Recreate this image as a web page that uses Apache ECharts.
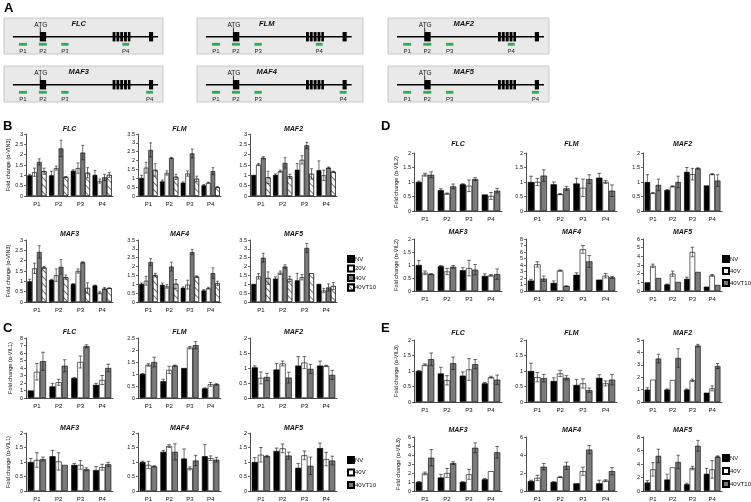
<!DOCTYPE html>
<html><head><meta charset="utf-8">
<script src="https://cdn.jsdelivr.net/npm/echarts@6/dist/echarts.min.js"></script>
<style>html,body{margin:0;padding:0;background:#fff}#c{width:751px;height:502px}</style>
</head><body><div id="c"></div>
<script>
// ---------------- DATA ----------------
const categories = ['P1','P2','P3','P4'];
const seriesB = ['NV','20V','40V','40VT10'];
const seriesCDE = ['NV','40V','40VT10'];
const geneNames = ['FLC','FLM','MAF2','MAF3','MAF4','MAF5'];

// gene structure (position along the box, 0-100)
const geneSpan = [5.6, 96.9];
const geneExons = [[22.5,26.5],[68.3,70.1],[70.7,72.5],[73.1,74.9],[75.5,77.3],[77.9,79.5],[91.2,93.8]];
const primersA = [[9.4,14.4],[21.9,26.9],[36,40.6],[74.4,78.7]];
const primersB = [[9.4,14.4],[21.9,26.9],[36,40.6],[89.4,93.7]];

// panel B (NV, 20V, 40V, 40VT10)
const B_FLC  = [[1.0,1.0,1.22,1.02],[1.15,1.35,1.35,0.72],[1.65,2.3,2.1,0.9],[1.2,0.92,1.12,1.02]];
const B_FLC_E= [[0.05,0.2,0.05,0.22],[0.2,0.1,0.25,0.1],[0.15,0.4,0.35,0.15],[0.15,0.02,0.25,0.12]];
const B_FLM  = [[1.02,0.82,0.75,0.6],[1.6,1.3,1.27,0.75],[2.6,2.15,2.4,1.4],[1.47,1.08,0.97,0.5]];
const B_FLM_E= [[0.15,0.08,0.05,0.05],[0.3,0.12,0.15,0.03],[0.4,0.03,0.25,0.2],[0.35,0.15,0.15,0.03]];
const B_MAF2 = [[1.02,1.02,1.27,1.25],[1.52,1.2,1.75,1.0],[1.85,1.6,2.45,1.37],[0.9,0.95,1.07,1.17]];
const B_MAF2_E=[[0,0.05,0.3,0.45],[0.05,0.05,0.2,0.25],[0.05,0.25,0.15,0.03],[0.3,0.1,0.25,0.03]];
const B_MAF3 = [[1.0,1.07,0.87,0.8],[1.63,1.3,1.5,0.45],[2.42,1.7,1.92,0.65],[1.67,1.2,0.68,0.67]];
const B_MAF3_E=[[0.1,0.03,0.02,0.02],[0.25,0.3,0.1,0.05],[0.3,0.35,0.03,0.05],[0.05,0.1,0.25,0.02]];
const B_MAF4 = [[1.02,0.97,0.8,0.65],[1.2,0.88,0.98,0.78],[2.25,2.0,2.82,1.63],[1.52,1.02,1.43,1.05]];
const B_MAF4_E=[[0.05,0.1,0.05,0.05],[0.25,0.1,0.25,0.05],[0.2,0.25,0.15,0.3],[0.1,0.25,0.05,0.12]];
const B_MAF5 = [[1.02,1.32,1.22,1.02],[1.45,1.65,1.4,0.65],[2.5,2.0,3.05,0.82],[1.35,1.3,1.62,0.9]];
const B_MAF5_E=[[0,0.1,0.4,0],[0.15,0.1,0.15,0.12],[0.25,0.1,0.25,0.2],[0.35,0.15,0,0.2]];

// panel C (NV, 40V, 40VT10)
const C_FLC  = [[1.0,1.55,2.65,1.75],[3.5,2.1,4.8,2.4],[4.9,4.3,6.9,4.0]];
const C_FLC_E= [[0,0.4,0.1,0.2],[1.1,0.4,0.8,0.6],[1.2,0.8,0.2,0.5]];
const C_FLM  = [[1.0,0.7,1.25,0.4],[1.38,1.17,2.1,0.57],[1.5,1.35,2.2,0.57]];
const C_FLM_E= [[0.02,0.08,0,0.02],[0.05,0.15,0.05,0.08],[0.2,0.02,0.15,0.03]];
const C_MAF2 = [[1.02,0.95,1.08,1.08],[0.67,1.15,1.18,1.07],[0.7,0.68,0.97,0.77]];
const C_MAF2_E=[[0.05,0.2,0.3,0.15],[0.2,0.08,0.2,0.02],[0.12,0.18,0.15,0.15]];
const C_MAF3 = [[1.0,1.2,0.9,0.72],[1.07,1.02,0.9,0.82],[1.1,0.9,0.75,0.92]];
const C_MAF3_E=[[0.12,0.2,0.05,0.12],[0.25,0.3,0.15,0.1],[0.07,0,0.05,0.07]];
const C_MAF4 = [[1.0,1.35,1.12,1.2],[0.9,1.55,0.78,1.13],[0.85,1.35,1.05,1.08]];
const C_MAF4_E=[[0.03,0.05,0.33,0.4],[0.12,0.05,0.05,0.08],[0.02,0.28,0.18,0.08]];
const C_MAF5 = [[1.0,1.38,0.8,1.48],[1.25,1.47,1.23,1.1],[1.2,1.22,0.87,1.05]];
const C_MAF5_E=[[0.15,0.1,0.15,0.17],[0.25,0.15,0.15,0.23],[0.03,0.12,0.3,0.15]];

// panel D
const D_FLC  = [[1.0,0.72,0.92,0.57],[1.25,0.6,0.87,0.52],[1.25,0.85,1.1,0.7]];
const D_FLC_E= [[0.03,0.05,0.02,0],[0.05,0.02,0.2,0.12],[0.1,0.08,0.05,0.08]];
const D_FLM  = [[1.0,0.92,0.95,1.15],[1.0,0.58,0.8,1.0],[1.22,0.78,1.1,0.7]];
const D_FLM_E= [[0.2,0.08,0.18,0.15],[0.12,0.02,0.3,0.05],[0.2,0.07,0.15,0.2]];
const D_MAF2 = [[1.0,0.72,1.35,0.88],[0.62,0.85,1.27,1.27],[0.9,1.0,1.47,1.05]];
const D_MAF2_E=[[0.25,0.02,0.15,0],[0.02,0.02,0.2,0.02],[0.2,0.2,0.02,0.2]];
const D_MAF3 = [[1.0,0.95,0.8,0.58],[0.7,0.75,0.88,0.6],[0.65,0.93,0.82,0.65]];
const D_MAF3_E=[[0.17,0.03,0.1,0.08],[0.07,0.12,0.3,0.03],[0.02,0.05,0.2,0.2]];
const D_MAF4 = [[1.6,1.25,2.5,1.75],[4.1,3.15,6.4,2.35],[1.9,0.75,4.55,2.1]];
const D_MAF4_E=[[0.2,0.3,0.3,0],[0.4,0.1,0.6,0.35],[0.4,0.05,0.9,0.15]];
const D_MAF5 = [[1.0,0.75,1.4,0.5],[2.9,2.0,4.5,1.8],[1.5,1.05,2.2,0.7]];
const D_MAF5_E=[[0,0.05,0.2,0],[0.2,0.3,0.55,0.1],[0,0,0,0]];

// panel E
const E_FLC  = [[1.0,0.92,0.85,0.6],[1.2,0.7,1.05,0.8],[1.38,1.25,1.22,0.72]];
const E_FLC_E= [[0.02,0.2,0.12,0.03],[0.03,0.15,0.35,0.03],[0.2,0.2,0.15,0.15]];
const E_FLM  = [[1.0,0.68,0.55,0.78],[0.8,0.92,0.6,0.6],[0.77,0.78,0.38,0.72]];
const E_FLM_E= [[0.25,0.1,0.18,0.1],[0.15,0.1,0.15,0.08],[0.12,0.07,0.07,0.17]];
const E_MAF2 = [[1.0,1.0,1.0,0.75],[1.8,1.77,1.75,1.1],[3.5,3.55,4.55,2.9]];
const E_MAF2_E=[[0.15,0.05,0.05,0],[0,0,0.1,0.2],[0.35,0.75,0.1,0.2]];
const E_MAF3 = [[1.0,1.5,1.0,1.3],[1.95,2.0,1.85,2.2],[3.7,3.1,4.8,4.3]];
const E_MAF3_E=[[0.05,0.35,0.02,0.1],[0.15,0.5,0.55,0],[0.9,0.15,0.55,0.65]];
const E_MAF4 = [[1.1,1.0,0.85,0.85],[1.45,1.55,2.2,1.15],[2.7,2.8,4.6,2.2]];
const E_MAF4_E=[[0.1,0.02,0,0.35],[0.3,0.05,0.45,0.1],[0.35,0.4,0.45,0.4]];
const E_MAF5 = [[1.25,1.7,1.0,2.55],[3.2,3.5,3.4,3.2],[5.2,4.3,6.7,5.1]];
const E_MAF5_E=[[0.3,0.8,0.15,0.8],[1.0,0,0.25,1.3],[1.0,1.0,0.8,0.1]];

// axis max / interval per chart (FLC, FLM, MAF2, MAF3, MAF4, MAF5)
const B_max = [3,3.5,3,3,3.5,3.5],  B_step = [0.5,0.5,0.5,0.5,0.5,0.5];
const C_max = [8,2.5,2,2,2,2],      C_step = [1,0.5,0.5,0.5,0.5,0.5];
const D_max = [2,2,2,2,8,6],        D_step = [0.5,0.5,0.5,0.5,1,1];
const E_max = [2,2,5,6,6,8],        E_step = [0.5,0.5,1,1,2,2];

const yNames = {B:'Fold change (\u03b1-VIN3)', C:'Fold change (\u03b1-VIL1)', D:'Fold change (\u03b1-VIL2)', E:'Fold change (\u03b1-VIL3)'};

// ---------------- LAYOUT ----------------
const FONT = 'Liberation Sans';
const leftCols = [[26,87],[138,83],[250,87]];
const rightCols = [[414,88],[526,91],[643,79]];
const panelCols = {B:leftCols, C:leftCols, D:rightCols, E:rightCols};
const panelRows = {B:[[134,62],[240,62]], C:[[338,60],[433,58]], D:[[153,58],[239,52]], E:[[340,62],[437,54]]};
const titleY = {B:[129,234], C:[332,428], D:[144,232], E:[333,430]};
const legendPos = {B:[347,255,1.5], C:[347,456,4.5], D:[722,255,4], E:[722,454,5]};
const letterPos = {A:[4,2], B:[3,120], C:[3,322], D:[381,120], E:[381,322]};
const geneRows = [18,66], geneCols = [[4,159],[197,166],[388,161]], geneH = 36;
const geneAxisMax = [100,104,100], geneTitleFrac = [0.47,0.42,0.47];

const panelData = {
  B:{vals:[B_FLC,B_FLM,B_MAF2,B_MAF3,B_MAF4,B_MAF5], errs:[B_FLC_E,B_FLM_E,B_MAF2_E,B_MAF3_E,B_MAF4_E,B_MAF5_E], max:B_max, step:B_step, names:seriesB},
  C:{vals:[C_FLC,C_FLM,C_MAF2,C_MAF3,C_MAF4,C_MAF5], errs:[C_FLC_E,C_FLM_E,C_MAF2_E,C_MAF3_E,C_MAF4_E,C_MAF5_E], max:C_max, step:C_step, names:seriesCDE},
  D:{vals:[D_FLC,D_FLM,D_MAF2,D_MAF3,D_MAF4,D_MAF5], errs:[D_FLC_E,D_FLM_E,D_MAF2_E,D_MAF3_E,D_MAF4_E,D_MAF5_E], max:D_max, step:D_step, names:seriesCDE},
  E:{vals:[E_FLC,E_FLM,E_MAF2,E_MAF3,E_MAF4,E_MAF5], errs:[E_FLC_E,E_FLM_E,E_MAF2_E,E_MAF3_E,E_MAF4_E,E_MAF5_E], max:E_max, step:E_step, names:seriesCDE}
};

const hatch = {symbol:'rect', symbolSize:1, dashArrayX:[1,0], dashArrayY:[0.6,4], rotation:Math.PI/4, color:'#777', backgroundColor:'#fff'};
const styleB = [{color:'#000'},{color:'#f6f6f6'},{color:'#7a7a7a'},{color:'#fff', decal:hatch}];
const styleX = [{color:'#000'},{color:'#fff'},{color:'#7a7a7a'}];

// ---------------- BUILD ----------------
const grids = [], xAxes = [], yAxes = [], series = [], graphics = [], legends = [];

function errRender(n, s, gap){
  return function(params, api){
    const ci = api.value(0), v = api.value(1), e = api.value(2);
    if (!(e > 0)) return null;
    const band = api.size([1,0])[0];
    const group = band*(1-gap);
    const bw = group/n;
    const cx = api.coord([ci, v])[0] - group/2 + bw*(s+0.5);
    const yt = api.coord([ci, v+e])[1], yb = api.coord([ci, Math.max(0, v-e)])[1];
    const cap = bw*0.3;
    const st = {stroke:'#111', lineWidth:0.6};
    return {type:'group', children:[
      {type:'line', shape:{x1:cx,y1:yt,x2:cx,y2:yb}, style:st},
      {type:'line', shape:{x1:cx-cap,y1:yt,x2:cx+cap,y2:yt}, style:st},
      {type:'line', shape:{x1:cx-cap,y1:yb,x2:cx+cap,y2:yb}, style:st}
    ]};
  };
}

// Panel A: gene diagrams
geneNames.forEach((g, gi) => {
  const r = Math.floor(gi/3), c = gi%3;
  const [gl, gw] = geneCols[c];
  const gt = geneRows[r];
  const idx = grids.length;
  grids.push({left:gl, top:gt, width:gw, height:geneH, show:true, backgroundColor:'#e9e9e9', borderColor:'#bdbdbd', borderWidth:0.8});
  xAxes.push({type:'value', gridIndex:idx, min:0, max:geneAxisMax[c], show:false});
  yAxes.push({type:'value', gridIndex:idx, min:0, max:100, show:false});
  const prim = r === 0 ? primersA : primersB;
  const items = [[0, geneSpan[0], geneSpan[1], 0]];
  geneExons.forEach(e => items.push([1, e[0], e[1], 0]));
  prim.forEach((p, pi) => items.push([2, p[0], p[1], pi]));
  items.push([3, geneExons[0][0], geneExons[0][1], 0]);
  series.push({type:'custom', xAxisIndex:idx, yAxisIndex:idx, silent:true, animation:false, encode:{x:[1,2]},
    data: items,
    renderItem: function(params, api){
      const k = api.value(0), a = api.value(1), b = api.value(2), li = api.value(3);
      const x1 = api.coord([a,0])[0], x2 = api.coord([b,0])[0];
      const Y = v => api.coord([0, v])[1];
      if (k === 0) return {type:'line', shape:{x1:x1,y1:Y(48),x2:x2,y2:Y(48)}, style:{stroke:'#000', lineWidth:1.6}};
      if (k === 1) return {type:'rect', shape:{x:x1, y:Y(61), width:x2-x1, height:Y(35)-Y(61)}, style:{fill:'#000'}};
      if (k === 2) return {type:'group', children:[
        {type:'rect', shape:{x:x1, y:Y(31), width:x2-x1, height:Y(23)-Y(31)}, style:{fill:'#2bb24c'}},
        {type:'text', style:{text:categories[li], x:(x1+x2)/2, y:Y(8), align:'center', verticalAlign:'middle', font:'6px "'+FONT+'"', fill:'#222'}}
      ]};
      return {type:'group', children:[
        {type:'line', shape:{x1:x1+0.5,y1:Y(61),x2:x1+0.5,y2:Y(74)}, style:{stroke:'#000', lineWidth:0.8}},
        {type:'text', style:{text:'ATG', x:x1+1, y:Y(81), align:'center', verticalAlign:'middle', font:'6.5px "'+FONT+'"', fill:'#111'}}
      ]};
    }
  });
  graphics.push({type:'text', x: gl + gw*geneTitleFrac[c], y: gt + 6, style:{text:g, font:'italic bold 7.5px "'+FONT+'"', fill:'#111', align:'center', verticalAlign:'middle'}});
});

// Panels B-E: bar charts
['B','C','D','E'].forEach(p => {
  const pd = panelData[p];
  const n = pd.names.length;
  const gap = n === 4 ? 0.12 : 0.16;
  const styles = n === 4 ? styleB : styleX;
  const prefix = p === 'B' ? 'B:' : 'X:';
  for (let ci = 0; ci < 6; ci++) {
    const r = Math.floor(ci/3), c = ci%3;
    const [left, width] = panelCols[p][c];
    const [top, height] = panelRows[p][r];
    const idx = grids.length;
    grids.push({left:left, top:top, width:width, height:height});
    xAxes.push({type:'category', gridIndex:idx, data:categories,
      axisLine:{lineStyle:{color:'#000', width:0.7}},
      axisTick:{length:2, lineStyle:{color:'#000', width:0.6}},
      axisLabel:{fontSize:6, color:'#111', margin:5, fontFamily:FONT}});
    yAxes.push({type:'value', gridIndex:idx, min:0, max:pd.max[ci], interval:pd.step[ci],
      axisLine:{show:true, lineStyle:{color:'#000', width:0.7}},
      axisTick:{show:true, length:2, lineStyle:{color:'#000', width:0.6}},
      splitLine:{show:false},
      axisLabel:{fontSize:5.5, color:'#111', margin:3, fontFamily:FONT},
      name: c === 0 ? yNames[p] : '', nameLocation:'middle', nameRotate:90, nameGap:13,
      nameTextStyle:{fontSize:5.5, color:'#111', fontFamily:FONT}});
    pd.names.forEach((nm, s) => {
      series.push({type:'bar', name:prefix+nm, xAxisIndex:idx, yAxisIndex:idx, data:pd.vals[ci][s],
        barGap:'0%', barCategoryGap:(gap*100)+'%', animation:false, silent:true,
        itemStyle:Object.assign({borderColor:'#000', borderWidth:0.6}, styles[s])});
      series.push({type:'custom', xAxisIndex:idx, yAxisIndex:idx, z:5, animation:false, silent:true,
        encode:{x:0, y:1},
        data: categories.map((_, k) => [k, pd.vals[ci][s][k], pd.errs[ci][s][k]]),
        renderItem: errRender(n, s, gap)});
    });
    graphics.push({type:'text', x:left + width/2, y:titleY[p][r], style:{text:geneNames[ci], font:'italic bold 7px "'+FONT+'"', fill:'#111', align:'center', verticalAlign:'middle'}});
  }
  const lp = legendPos[p];
  legends.push({data:pd.names.map(nm => prefix+nm), left:lp[0], top:lp[1], orient:'vertical', itemWidth:6, itemHeight:6, itemGap:lp[2],
    icon:'rect', padding:0, selectedMode:false, formatter: nm => nm.split(':')[1],
    textStyle:{fontSize:6, color:'#111', fontFamily:FONT, padding:[0,0,0,-4]}});
});

Object.keys(letterPos).forEach(L => {
  graphics.push({type:'text', x:letterPos[L][0], y:letterPos[L][1], style:{text:L, font:'bold 13px "'+FONT+'"', fill:'#000'}});
});

const chart = echarts.init(document.getElementById('c'), null, {renderer:'canvas'});
chart.setOption({backgroundColor:'#fff', animation:false, grid:grids, xAxis:xAxes, yAxis:yAxes, series:series, legend:legends, graphic:graphics});
</script></body></html>
